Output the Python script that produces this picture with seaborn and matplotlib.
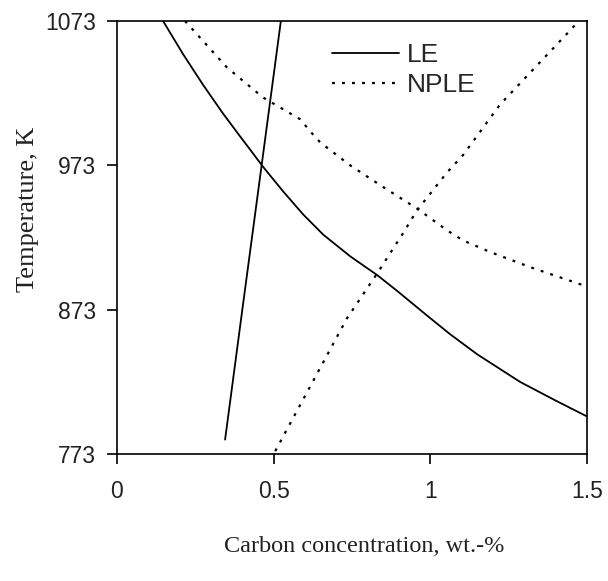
import numpy as np
import pandas as pd
import seaborn as sns
import matplotlib
matplotlib.use("Agg")
import matplotlib.pyplot as plt
from matplotlib.lines import Line2D

# values
le_x = [0.147, 0.211, 0.274, 0.338, 0.393, 0.4245, 0.466, 0.530, 0.594, 0.658,
        0.744, 0.830, 0.894, 0.989, 1.063, 1.15, 1.286, 1.4, 1.5]
le_t = [1073, 1050, 1029, 1009, 993, 984, 972, 955, 939, 925,
        910, 897, 886, 869, 856, 842, 823, 810, 799]
le_steep_x = [0.345, 0.400, 0.461, 0.523]
le_steep_t = [783, 873, 972, 1073]
nple_x = [0.217, 0.35, 0.466, 0.584, 0.627, 0.648, 0.744, 0.849, 0.958, 1.053,
          1.104, 1.19, 1.318, 1.5]
nple_t = [1073, 1041, 1020, 1005, 994, 989, 973, 958, 943, 928,
          921, 913, 902.5, 889]
nple_rise_x = [0.505, 0.734, 0.830, 0.913, 0.958, 1.053, 1.104, 1.222, 1.47]
nple_rise_t = [775, 867, 898, 926, 942, 968, 980, 1015, 1072]

xticks = [0, 0.5, 1, 1.5]
xticklabels = ["0", "0.5", "1", "1.5"]
yticks = [773, 873, 973, 1073]

sns.set_theme(style="ticks")
plt.rcParams['font.family'] = ['Liberation Sans', 'DejaVu Sans']

fig = plt.figure(figsize=(6.08, 5.81), dpi=100)
ax = fig.add_axes([0.1924, 0.2186, 0.7731, 0.7453])

dotted = (0, (1.3, 3.2))
for xs, ts, ls, lw in [(le_x, le_t, '-', 1.3), (le_steep_x, le_steep_t, '-', 1.3),
                       (nple_x, nple_t, dotted, 1.6), (nple_rise_x, nple_rise_t, dotted, 1.6)]:
    sns.lineplot(x=xs, y=ts, ax=ax, sort=False, estimator=None,
                 color='black', linewidth=lw, linestyle=ls)

ax.set_xlim(0, 1.5)
ax.set_ylim(773, 1073)
ax.set_xticks(xticks)
ax.set_xticklabels(xticklabels)
ax.set_yticks(yticks)
for s in ax.spines.values():
    s.set_linewidth(1.2)
    s.set_color('black')
ax.tick_params(direction='out', length=7, width=1.2, labelsize=16.5, color='black',
               labelcolor='#222222', pad=8)
ax.tick_params(axis='x', pad=12)

ax.set_xlabel("Carbon concentration, wt.-%", family='Liberation Serif', fontsize=17.5,
              color='#222222')
ax.xaxis.set_label_coords(0.525, -0.19)
ax.set_ylabel("Temperature, K", family='Liberation Serif', fontsize=19, color='#222222')
ax.yaxis.set_label_coords(-0.165, 0.565)

handles = [Line2D([], [], color='black', linewidth=1.3, linestyle='-'),
           Line2D([], [], color='black', linewidth=1.6, linestyle=dotted)]
ax.legend(handles, ["LE", "NPLE"], loc='upper left', bbox_to_anchor=(0.457, 0.948),
          frameon=False, fontsize=19, handlelength=2.55, handletextpad=0.3,
          labelspacing=0.2, borderaxespad=0, borderpad=0)

fig.savefig("out.png", dpi=100)
